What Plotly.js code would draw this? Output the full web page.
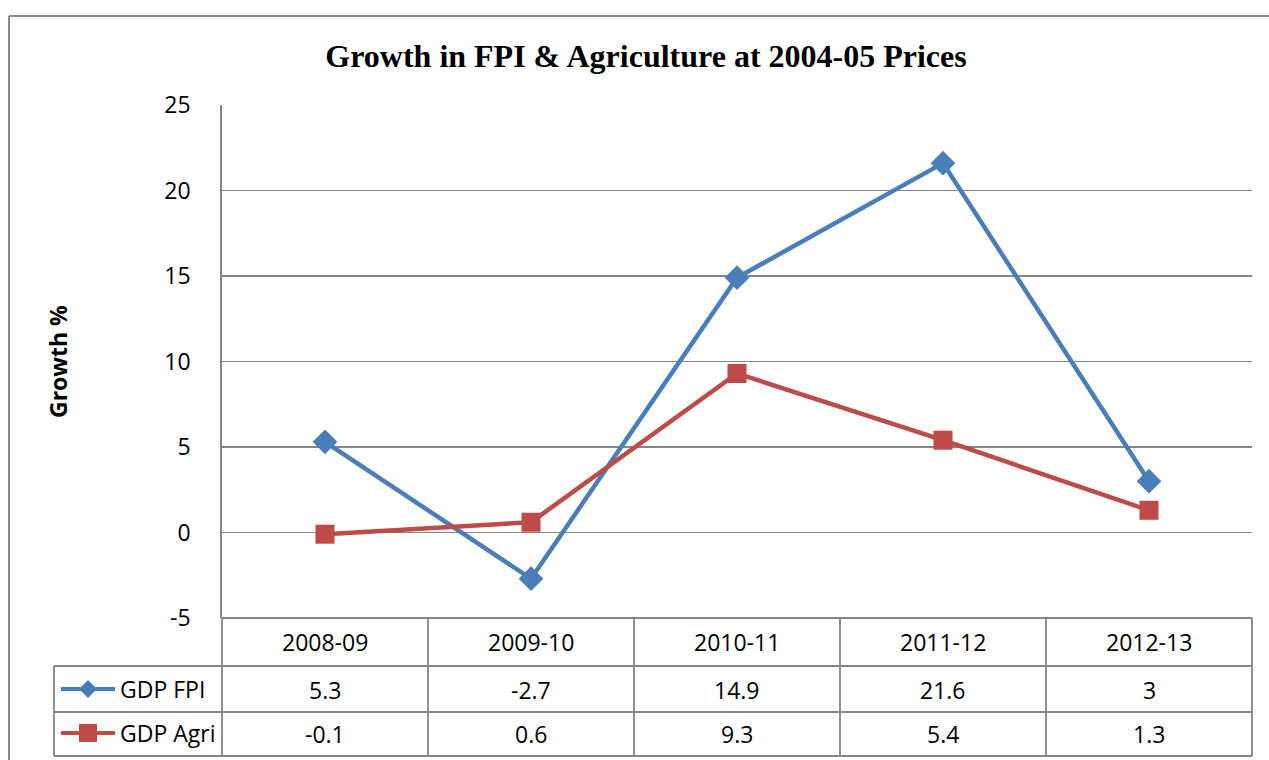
<!DOCTYPE html>
<html>
<head>
<meta charset="utf-8">
<script src="https://cdn.plot.ly/plotly-3.0.1.min.js"></script>
<style>
html,body{margin:0;padding:0;background:#fff;}
#chart{width:1269px;height:760px;}
</style>
</head>
<body>
<div id="chart"></div>
<script>
// ---- data ----
const categories = ["2008-09", "2009-10", "2010-11", "2011-12", "2012-13"];
const seriesNames = ["GDP FPI", "GDP Agri"];
const gdpFPI = [5.3, -2.7, 14.9, 21.6, 3];
const gdpAgri = [-0.1, 0.6, 9.3, 5.4, 1.3];
const yTicks = [-5, 0, 5, 10, 15, 20, 25];

// ---- layout geometry (pixels) ----
const W = 1269, H = 760;
const L = 222, R = 1252, T = 105, B = 618;
const pw = R - L, ph = B - T;
const xp = px => (px - L) / pw;
const yp = py => (B - py) / ph;

const blue = "#4A7EBB", red = "#BE4B48";
const gridC = "#868686";
const font = "Open Sans, Noto Sans, sans-serif";

const traces = [
  {x: categories, y: gdpFPI, name: seriesNames[0], type: "scatter", mode: "lines+markers",
   line: {color: blue, width: 4.5}, marker: {symbol: "diamond", size: 19, color: blue}, cliponaxis: false},
  {x: categories, y: gdpAgri, name: seriesNames[1], type: "scatter", mode: "lines+markers",
   line: {color: red, width: 4.5}, marker: {symbol: "square", size: 19, color: red}, cliponaxis: false}
];

const shapes = [];
const annotations = [];
const n = categories.length;
// table rows (pixel y)
const rowTop = 618, r1 = 666, r2 = 712, r3 = 756, legendLeft = 54;
const lineStyle = {color: gridC, width: 1.8};
function hline(x0, x1, y) {
  shapes.push({type: "line", xref: "paper", yref: "paper", x0: xp(x0), x1: xp(x1), y0: yp(y), y1: yp(y), line: lineStyle});
}
function vlinePaper(xpaper, y0, y1) {
  shapes.push({type: "line", xref: "paper", yref: "paper", x0: xpaper, x1: xpaper, y0: yp(y0), y1: yp(y1), line: lineStyle});
}
hline(L, R, rowTop);
hline(legendLeft, R, r1);
hline(legendLeft, R, r2);
hline(legendLeft, R, r3);
vlinePaper(xp(legendLeft), r1, r3);
for (let k = 0; k <= n; k++) vlinePaper(k / n, rowTop, r3);

// outer chart frame
shapes.push({type: "line", xref: "paper", yref: "paper", x0: xp(9), x1: xp(9), y0: yp(16), y1: yp(H + 5), line: {color: "#8c8c8c", width: 2}});
shapes.push({type: "line", xref: "paper", yref: "paper", x0: xp(9), x1: xp(W + 5), y0: yp(16), y1: yp(16), line: {color: "#8c8c8c", width: 2}});

// header + values
const rowsData = [gdpFPI, gdpAgri];
const rowCenters = [(r1 + r2) / 2 + 1, (r2 + r3) / 2];
const tf = {family: font, size: 23, color: "#000"};
categories.forEach((c, i) => {
  annotations.push({x: c, xref: "x", y: yp((rowTop + r1) / 2), yref: "paper", text: c, showarrow: false, font: tf, xanchor: "center", yanchor: "middle"});
  rowsData.forEach((arr, j) => {
    annotations.push({x: c, xref: "x", y: yp(rowCenters[j]), yref: "paper", text: String(arr[i]), showarrow: false, font: tf, xanchor: "center", yanchor: "middle"});
  });
});
// legend keys in table
const keyColors = [blue, red];
seriesNames.forEach((nm, j) => {
  const cy = rowCenters[j] - 1;
  shapes.push({type: "line", xref: "paper", yref: "paper", x0: xp(61), x1: xp(115), y0: yp(cy), y1: yp(cy), line: {color: keyColors[j], width: 4}});
  const cx = 88, s = 9;
  if (j === 0) {
    const path = `M ${xp(cx)} ${yp(cy - s)} L ${xp(cx + s)} ${yp(cy)} L ${xp(cx)} ${yp(cy + s)} L ${xp(cx - s)} ${yp(cy)} Z`;
    shapes.push({type: "path", xref: "paper", yref: "paper", path: path, fillcolor: keyColors[j], line: {width: 0}});
  } else {
    shapes.push({type: "rect", xref: "paper", yref: "paper", x0: xp(cx - s), x1: xp(cx + s), y0: yp(cy - s), y1: yp(cy + s), fillcolor: keyColors[j], line: {width: 0}});
  }
  annotations.push({x: xp(118), xref: "paper", y: yp(cy), yref: "paper", text: nm, showarrow: false, font: tf, xanchor: "left", yanchor: "middle"});
});
// y-axis title
annotations.push({x: xp(58), xref: "paper", y: yp(362), yref: "paper", text: "Growth %", textangle: -90, showarrow: false,
  font: {family: font, size: 23, color: "#000", weight: "bold"}, xanchor: "center", yanchor: "middle"});

const layout = {
  width: W, height: H,
  margin: {l: L, r: W - R, t: T, b: H - B, pad: 0},
  paper_bgcolor: "#fff", plot_bgcolor: "#fff",
  showlegend: false,
  title: {text: "<b>Growth in FPI &amp; Agriculture at 2004-05 Prices</b>", x: 646 / W, xref: "container", xanchor: "center",
          y: 1 - 56 / H, yref: "container", yanchor: "middle",
          font: {family: "Liberation Serif, Times New Roman, serif", size: 32, color: "#000"}},
  xaxis: {type: "category", categoryarray: categories, range: [-0.5, n - 0.5], showticklabels: false, showgrid: false,
          zeroline: false, showline: false, ticks: "", fixedrange: true},
  yaxis: {range: [-5, 25], tickvals: yTicks, ticktext: yTicks.map(String), showgrid: true, gridcolor: gridC, gridwidth: 1.8,
          zeroline: true, zerolinecolor: gridC, zerolinewidth: 1.8, showline: true, linecolor: gridC, linewidth: 1.8,
          ticks: "", ticklabelstandoff: 25, tickfont: {family: font, size: 23, color: "#000"}, fixedrange: true},
  shapes: shapes,
  annotations: annotations
};

Plotly.newPlot("chart", traces, layout, {staticPlot: true});
</script>
</body>
</html>
